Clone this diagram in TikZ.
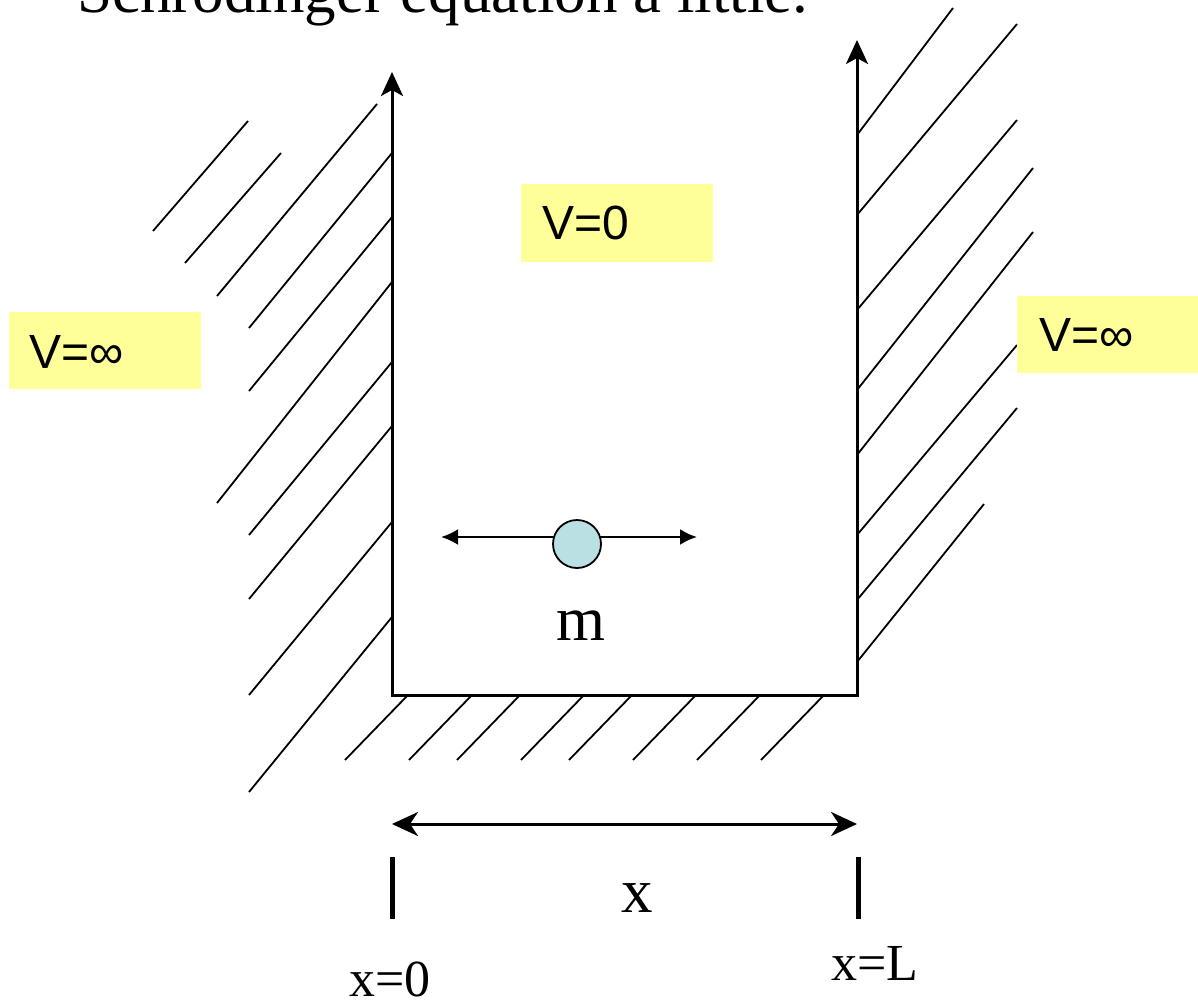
\documentclass[tikz,border=0pt]{standalone}
\usepackage{fontspec}
\setmainfont{Liberation Serif}
\newfontfamily\arialf{Liberation Sans}
\usetikzlibrary{arrows.meta}
\definecolor{padyellow}{RGB}{255,255,153}
\definecolor{ballblue}{RGB}{187,224,227}
\tikzset{
  bigtip/.tip={Stealth[length=24pt,width=22pt,inset=6pt]},
  axtip/.tip={Stealth[length=26pt,width=24pt,inset=8pt]},
  smalltip/.tip={Latex[length=17pt,width=16pt]},
}
\begin{document}
\begin{tikzpicture}[x=1pt,y=-1pt,
  wall/.style={line width=3pt, line join=miter},
  hatch/.style={line width=1.8pt},
  tick/.style={line width=5pt},
  serif/.style={inner sep=0pt, font=\fontsize{63}{70}\selectfont},
  seriflab/.style={inner sep=0pt, anchor=base west, font=\fontsize{52}{60}\selectfont},
  vbox/.style={fill=padyellow, draw=none, inner sep=0pt, anchor=north west},
  vtext/.style={inner sep=0pt, anchor=base west, font=\arialf\fontsize{48}{55}\selectfont},
]
\useasboundingbox (0,0) rectangle (1198,1000);

% title (cut off at the top)
\node[serif, anchor=base west] (title) at (77,13) {Schrödinger equation a little.};

% hatching, left wall
\foreach \xa/\ya/\xb/\yb in {153/231/248/121, 185/263/281/153, 217/296/377/104,
  249/328/392/153, 249/391/392/217, 217/503/392/282, 249/535/392/362,
  249/599/392/426, 249/695/392/522, 249/792/392/617}
  \draw[hatch] (\xa,\ya) -- (\xb,\yb);
% hatching, right wall
\foreach \xa/\ya/\xb/\yb in {857/135/953/8, 857/215/1017/24, 857/310/1017/120,
  857/390/1033/168, 857/455/1033/232, 857/535/1017/345, 857/600/1017/408,
  857/662/984/504}
  \draw[hatch] (\xa,\ya) -- (\xb,\yb);
% hatching, floor
\foreach \xa in {345,409,457,521,569,633,697,761}
  \draw[hatch] (\xa,760) -- (\xa+63,695);

% the well
\coordinate (TL) at (392,72);
\coordinate (BL) at (392,695);
\coordinate (BR) at (857,695);
\coordinate (TR) at (857,40);
\draw[wall, bigtip-bigtip] (TL) -- (BL) -- (BR) -- (TR);

% potential labels
\node[vbox, minimum width=192pt, minimum height=78pt] (v0box) at (521,184) {};
\node[vtext] (v0) at (542,240) {V=0};
\node[vbox, minimum width=192pt, minimum height=77pt] (vlbox) at (9,312) {};
\node[vtext] (vl) at (29,368) {V=∞};
\node[vbox, minimum width=181pt, minimum height=77pt] (vrbox) at (1017,296) {};
\node[vtext] (vr) at (1039,351) {V=∞};

% particle
\coordinate (mc) at (577,537);
\coordinate (al) at (441,537);
\coordinate (ar) at (697,537);
\draw[line width=2.5pt, -smalltip] (mc) -- (al);
\draw[line width=2.5pt, -smalltip] (mc) -- (ar);
\node[circle, draw, line width=1.8pt, fill=ballblue, minimum size=48pt, inner sep=0pt] (ball) at (577,544) {};
\node[serif, anchor=base] (m) at (581,640) {m};

% x axis
\coordinate (xl) at (392,824);
\coordinate (xr) at (857,824);
\draw[line width=3pt, axtip-axtip] (xl) -- (xr);
\coordinate (t1a) at (392,857); \coordinate (t1b) at (392,919);
\coordinate (t2a) at (858,857); \coordinate (t2b) at (858,919);
\draw[tick] (t1a) -- (t1b);
\draw[tick] (t2a) -- (t2b);
\node[serif, anchor=base] (xlab) at (637,912) {x};
\node[seriflab] (x0) at (349,996) {x=0};
\node[seriflab] (xL) at (831,980) {x=L};
\end{tikzpicture}
\end{document}
